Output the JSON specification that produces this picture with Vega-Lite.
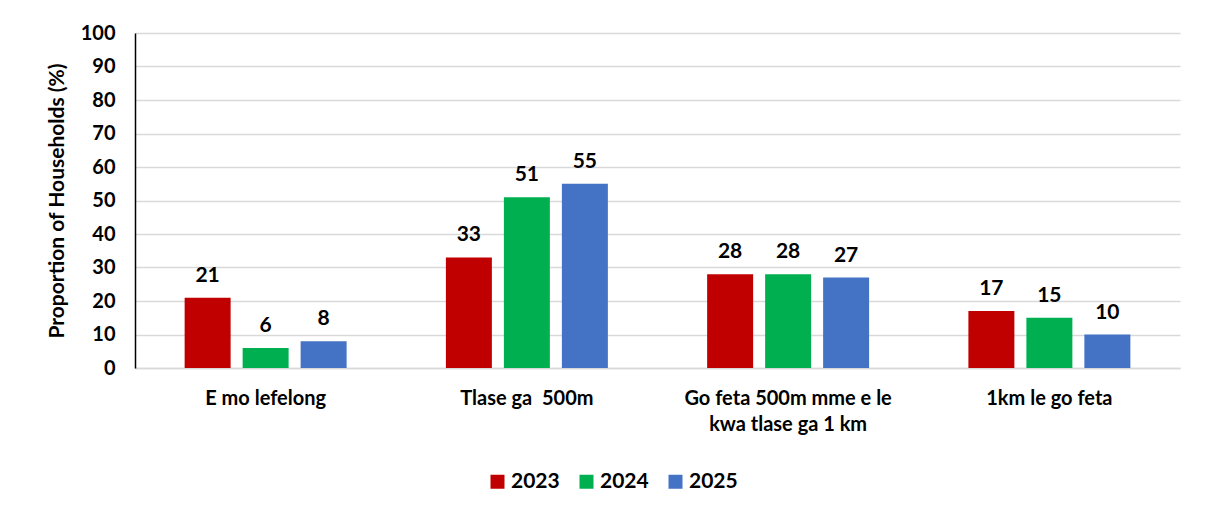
{
  "$schema": "https://vega.github.io/schema/vega-lite/v6.json",
  "width": 1045,
  "height": 335,
  "autosize": {"type": "none"},
  "padding": {"left": 135, "top": 33, "right": 32, "bottom": 149},
  "background": "white",
  "config": {
    "font": "Lato",
    "view": {"stroke": null},
    "axis": {"labelFont": "Lato", "titleFont": "Lato"}
  },
  "data": {
    "values": [
      {"category": "E mo lefelong", "year": "2023", "value": 21},
      {"category": "E mo lefelong", "year": "2024", "value": 6},
      {"category": "E mo lefelong", "year": "2025", "value": 8},
      {"category": "Tlase ga  500m", "year": "2023", "value": 33},
      {"category": "Tlase ga  500m", "year": "2024", "value": 51},
      {"category": "Tlase ga  500m", "year": "2025", "value": 55},
      {"category": "Go feta 500m mme e le kwa tlase ga 1 km", "year": "2023", "value": 28},
      {"category": "Go feta 500m mme e le kwa tlase ga 1 km", "year": "2024", "value": 28},
      {"category": "Go feta 500m mme e le kwa tlase ga 1 km", "year": "2025", "value": 27},
      {"category": "1km le go feta", "year": "2023", "value": 17},
      {"category": "1km le go feta", "year": "2024", "value": 15},
      {"category": "1km le go feta", "year": "2025", "value": 10}
    ]
  },
  "encoding": {
    "x": {
      "field": "category",
      "type": "nominal",
      "sort": null,
      "scale": {"paddingInner": 0.38, "paddingOuter": 0.19},
      "axis": {
        "title": null,
        "labelAngle": 0,
        "ticks": false,
        "domainColor": "#d9d9d9",
        "domainWidth": 1.5,
        "labelFontSize": 20,
        "labelFontWeight": "bold",
        "labelColor": "#000000",
        "labelPadding": 20,
        "labelLimit": 0,
        "labelLineHeight": 26,
        "labelExpr": "datum.label == 'Go feta 500m mme e le kwa tlase ga 1 km' ? ['Go feta 500m mme e le', 'kwa tlase ga 1 km'] : (datum.label == 'Tlase ga  500m' ? 'Tlase ga\u00a0 500m' : datum.label)"
      }
    },
    "xOffset": {
      "field": "year",
      "type": "nominal",
      "scale": {"paddingInner": 0.207, "paddingOuter": 0}
    },
    "y": {
      "field": "value",
      "type": "quantitative",
      "scale": {"domain": [0, 100]},
      "axis": {
        "title": "Proportion of Households (%)",
        "titleFontSize": 21,
        "titleFontWeight": "bold",
        "titleColor": "#000000",
        "titleX": -78,
        "titleBaseline": "middle",
        "values": [0, 10, 20, 30, 40, 50, 60, 70, 80, 90, 100],
        "ticks": false,
        "domainColor": "#000000",
        "domainWidth": 1.5,
        "gridColor": "#d9d9d9",
        "gridWidth": 1.5,
        "labelFontSize": 20,
        "labelFontWeight": "bold",
        "labelColor": "#000000",
        "labelPadding": 20
      }
    }
  },
  "layer": [
    {
      "mark": {"type": "bar"},
      "encoding": {
        "color": {
          "field": "year",
          "type": "nominal",
          "scale": {"domain": ["2023", "2024", "2025"], "range": ["#C00000", "#00B050", "#4472C4"]},
          "legend": {
            "title": null,
            "orient": "none",
            "legendX": 352,
            "legendY": 438,
            "direction": "horizontal",
            "symbolType": "square",
            "symbolSize": 196,
            "symbolStrokeWidth": 0,
            "labelFontSize": 21,
            "labelFontWeight": "bold",
            "labelColor": "#000000",
            "labelFont": "Lato",
            "labelOffset": 3,
            "columnPadding": 16
          }
        }
      }
    },
    {
      "mark": {"type": "text", "baseline": "alphabetic", "dy": -16, "fontSize": 21, "fontWeight": "bold", "color": "#000000"},
      "encoding": {
        "text": {"field": "value", "type": "quantitative"}
      }
    }
  ]
}
